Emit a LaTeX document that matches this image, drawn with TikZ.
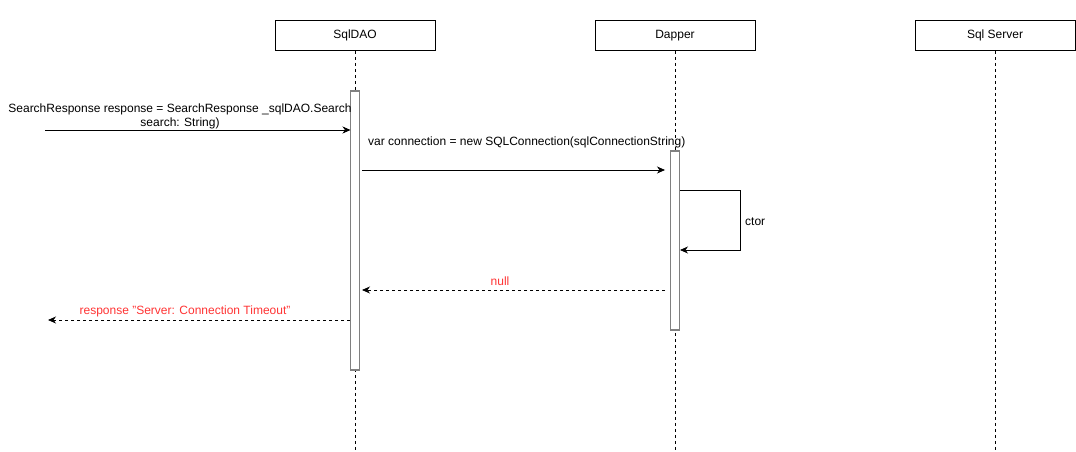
\documentclass[tikz,border=0pt]{standalone}
\usepackage{fontspec}
\setmainfont{Liberation Sans}
\usetikzlibrary{arrows.meta}
\definecolor{actgray}{HTML}{808080}
\definecolor{retred}{HTML}{FF3333}
\begin{document}
\begin{tikzpicture}[x=1pt,y=-1pt,
  font=\fontsize{12}{14}\selectfont,
  head/.style={draw=black,fill=white,minimum width=160pt,minimum height=30pt,inner sep=0pt,line width=0.8pt},
  life/.style={dashed,dash pattern=on 3pt off 3pt,line width=0.8pt},
  act/.style={draw=actgray,fill=white,line width=1.5pt},
  msg/.style={line width=0.8pt,-{Stealth[length=8pt,width=7pt,inset=2.5pt]}},
  ret/.style={msg,dashed,dash pattern=on 3pt off 3pt},
  lbl/.style={inner sep=1pt,align=center}]
\useasboundingbox (0,0) rectangle (1076,452);
% headers
\node[head] (dao) at (355,35.5) {SqlDAO};
\node[head] (dap) at (675,35.5) {Dapper};
\node[head] (srv) at (995,35.5) {Sql Server};
\coordinate (daoEnd) at (355,452);
\coordinate (dapEnd) at (675,452);
\coordinate (srvEnd) at (995,452);
\draw[life] (dao.south) -- (daoEnd);
\draw[life] (dap.south) -- (dapEnd);
\draw[life] (srv.south) -- (srvEnd);
% activations
\node[act,minimum width=9pt,minimum height=279pt,inner sep=0pt] (daoAct) at (355,230.5) {};
\node[act,minimum width=9pt,minimum height=179pt,inner sep=0pt] (dapAct) at (675,240.5) {};
% coordinates
\coordinate (src) at (45,130);
\coordinate (srcEnd) at (48,320);
\coordinate (m1) at (350.5,130);
\coordinate (m2s) at (362,170);
\coordinate (m2e) at (665,170);
\coordinate (s1) at (680,190);
\coordinate (s2) at (740,190);
\coordinate (s3) at (740,250);
\coordinate (s4) at (680,250);
\coordinate (r1s) at (665,290);
\coordinate (r1e) at (362,290);
\coordinate (r2s) at (350,320);
% messages
\draw[msg] (src) -- (m1);
\node[lbl] (l1) at (180,116.5) {SearchResponse response = SearchResponse \_sqlDAO.Search\\search: String)};
\draw[msg] (m2s) -- (m2e);
\node[lbl,anchor=west] (l2) at (367,142) {var connection = new SQLConnection(sqlConnectionString)};
\draw[msg] (s1) -- (s2) -- (s3) -- (s4);
\node[lbl,anchor=west] (l3) at (744,222) {ctor};
\draw[ret] (r1s) -- (r1e);
\node[lbl,text=retred] (l4) at (500,281) {null};
\draw[ret] (r2s) -- (srcEnd);
\node[lbl,text=retred] (l5) at (185,311) {response \symbol{34}Server: Connection Timeout\symbol{34}};
\end{tikzpicture}
\end{document}
